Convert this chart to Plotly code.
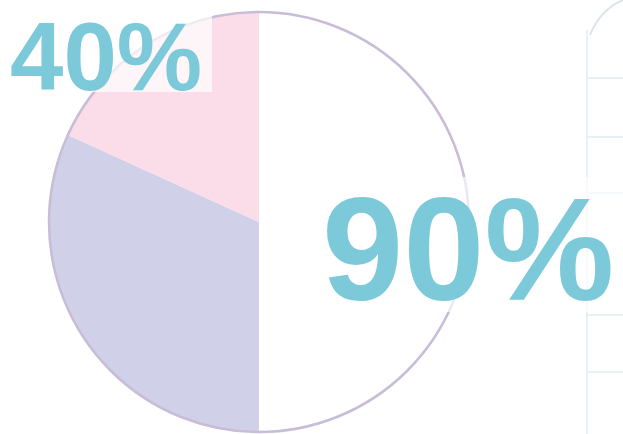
import plotly.graph_objects as go

W, H = 623, 434

slice_names = ["White", "Lavender", "Pink"]
slice_values = [50, 31.8, 18.2]
slice_colors = ["#ffffff", "#d0d1e9", "#fadde8"]

label_texts = ["40%", "90%"]

cx, cy, r = 259, 222, 210

fig = go.Figure()
fig.add_trace(go.Pie(
    labels=slice_names, values=slice_values, sort=False, direction="clockwise",
    rotation=0, textinfo="none", hoverinfo="skip", showlegend=False,
    marker=dict(colors=slice_colors, line=dict(width=0)),
    domain=dict(x=[(cx - r) / W, (cx + r) / W], y=[(H - cy - r) / H, (H - cy + r) / H]),
))

def px(x): return x / W
def py(y): return 1 - y / H

shapes = []
# pie outline
shapes.append(dict(type="circle", xref="paper", yref="paper",
                   x0=px(cx - r), x1=px(cx + r), y0=py(cy + r), y1=py(cy - r),
                   line=dict(color="#c9bcd6", width=2.5), layer="above"))
# faint background grid on the right
grid_col = "#e6f1f6"
shapes.append(dict(type="line", xref="paper", yref="paper", x0=px(587), x1=px(587), y0=py(30), y1=py(434),
                   line=dict(color=grid_col, width=2), layer="below"))
for yy in [78, 137, 193, 315, 372]:
    shapes.append(dict(type="line", xref="paper", yref="paper", x0=px(587), x1=px(623), y0=py(yy), y1=py(yy),
                       line=dict(color=grid_col, width=2), layer="below"))
shapes.append(dict(type="path", xref="paper", yref="paper",
                   path=f"M {px(590)} {py(35)} Q {px(600)} {py(10)} {px(623)} {py(0)}",
                   line=dict(color="#dbe4ea", width=2), layer="below"))
# translucent label backgrounds
shapes.append(dict(type="rect", xref="paper", yref="paper", x0=px(5), x1=px(212), y0=py(92), y1=py(8),
                   fillcolor="rgba(255,255,255,0.7)", line=dict(width=0), layer="above"))
shapes.append(dict(type="rect", xref="paper", yref="paper", x0=px(318), x1=px(623), y0=py(312), y1=py(177),
                   fillcolor="rgba(255,255,255,0.65)", line=dict(width=0), layer="above"))

annotations = [
    dict(text=f"<b>{label_texts[0]}</b>", x=px(106), y=py(56), xref="paper", yref="paper",
         xanchor="center", yanchor="middle", showarrow=False,
         font=dict(family="Liberation Sans, Arial, sans-serif", size=96, color="#7cc9da")),
    dict(text=f"<b>{label_texts[1]}</b>", x=px(468), y=py(250), xref="paper", yref="paper",
         xanchor="center", yanchor="middle", showarrow=False,
         font=dict(family="Liberation Sans, Arial, sans-serif", size=146, color="#7cc9da")),
]

fig.update_layout(width=W, height=H, margin=dict(l=0, r=0, t=0, b=0),
                  paper_bgcolor="white", plot_bgcolor="white",
                  shapes=shapes, annotations=annotations)

fig.write_html("out.html", config={"displayModeBar": False},
               post_script="document.body.style.margin='0';document.body.style.overflow='hidden';")
